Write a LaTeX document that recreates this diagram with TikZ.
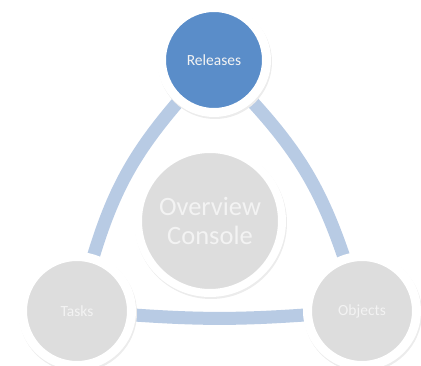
\documentclass[tikz,border=0pt]{standalone}
\usepackage{fontspec}
\setmainfont{Carlito}
\usetikzlibrary{positioning}
\usetikzlibrary{backgrounds}
\definecolor{relblue}{RGB}{90,141,201}
\definecolor{linkblue}{RGB}{184,203,228}
\definecolor{hubgray}{RGB}{221,221,221}
\definecolor{labelwhite}{RGB}{243,243,243}
\definecolor{shade}{RGB}{236,236,236}

\begin{document}
\begin{tikzpicture}
    [x=1pt, y=1pt,
    stage/.style={circle, fill=hubgray, draw=white, line width=9pt, minimum size=109pt, inner sep=0pt, outer sep=0pt, text=labelwhite, font=\fontsize{15.5}{18}\selectfont,
      preaction={draw=shade, fill=shade, transform canvas={xshift=1pt, yshift=-2pt}}},
    active/.style={stage, fill=relblue, minimum size=105pt},
    hub/.style={stage, minimum size=144pt, line width=8pt, align=center, font=\fontsize{26.5}{29}\selectfont},
    link/.style={linkblue, line width=13pt}]
    \useasboundingbox (0,0) rectangle (421,365);
    %\draw[step=10pt,gray,very thin] (0,0) grid (421,365);
    \node[active] (R) at (214, 305) {Releases};
    \node[stage]  (T) at (77, 54)   {Tasks};
    \node[stage]  (O) at (362, 54)  {Objects};
    \node[hub]    (C) at (210, 144) {Overview\\Console};
    \begin{scope}[on background layer]
    \draw[link] (R) to[bend right=12] (T);
    \draw[link] (T) to[bend right=4] (O);
    \draw[link] (O) to[bend right=12] (R);
    \end{scope}
\end{tikzpicture}
\end{document}
